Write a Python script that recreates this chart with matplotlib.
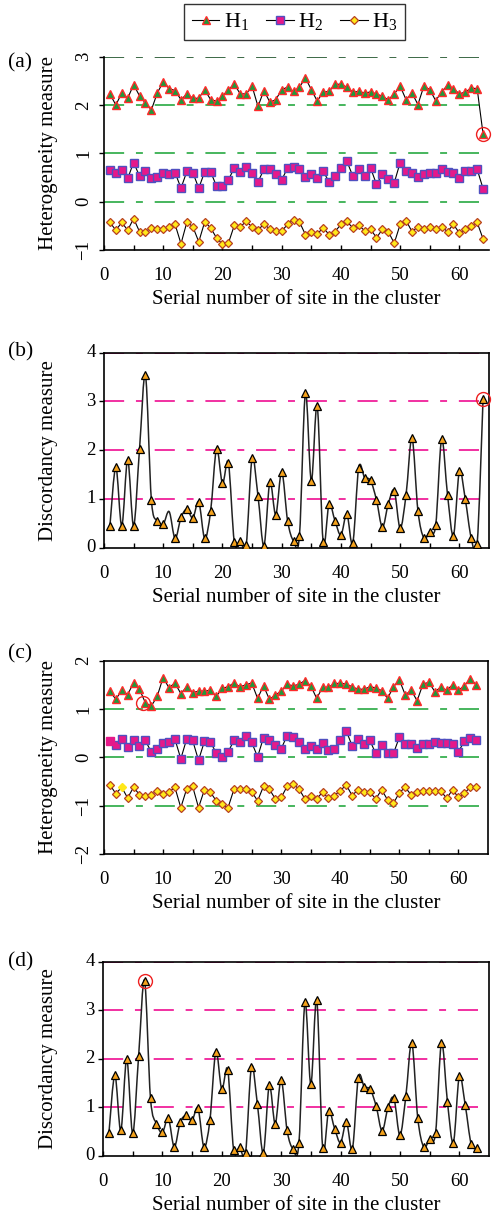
import numpy as np
import matplotlib
matplotlib.use('Agg')
import matplotlib.pyplot as plt
from matplotlib.path import Path
from matplotlib.patches import PathPatch
from matplotlib.lines import Line2D

plt.rcParams['font.family'] = ['Liberation Serif', 'DejaVu Serif']
plt.rcParams['mathtext.fontset'] = 'custom'
plt.rcParams['mathtext.rm'] = 'Liberation Serif'
plt.rcParams['mathtext.it'] = 'Liberation Serif:italic'
plt.rcParams['lines.scale_dashes'] = False

# ---------------- data ----------------
sites_64 = list(range(1, 65))
sites_63 = list(range(1, 64))

a_H1 = [2.23, 2.00, 2.25, 2.14, 2.42, 2.19, 2.04, 1.90, 2.25, 2.48,
        2.34, 2.30, 2.11, 2.23, 2.14, 2.14, 2.32, 2.11, 2.08, 2.18,
        2.32, 2.43, 2.23, 2.23, 2.39, 1.97, 2.30, 2.06, 2.11, 2.32,
        2.37, 2.28, 2.37, 2.56, 2.32, 2.08, 2.27, 2.28, 2.43, 2.43,
        2.37, 2.27, 2.28, 2.25, 2.27, 2.23, 2.18, 2.11, 2.23, 2.39,
        2.11, 2.25, 2.01, 2.39, 2.32, 2.09, 2.27, 2.41, 2.34, 2.23,
        2.27, 2.35, 2.34, 1.40]
a_H2 = [0.66, 0.59, 0.65, 0.48, 0.81, 0.53, 0.63, 0.48, 0.52, 0.60,
        0.57, 0.60, 0.28, 0.63, 0.60, 0.28, 0.62, 0.62, 0.32, 0.32,
        0.45, 0.70, 0.61, 0.72, 0.60, 0.41, 0.67, 0.68, 0.58, 0.45,
        0.70, 0.72, 0.68, 0.52, 0.57, 0.50, 0.63, 0.41, 0.53, 0.70,
        0.84, 0.53, 0.68, 0.53, 0.70, 0.36, 0.57, 0.46, 0.39, 0.81,
        0.63, 0.60, 0.52, 0.57, 0.60, 0.60, 0.67, 0.62, 0.60, 0.48,
        0.63, 0.63, 0.67, 0.27]
a_H3 = [-0.43, -0.59, -0.43, -0.59, -0.35, -0.62, -0.62, -0.54, -0.57, -0.57,
        -0.52, -0.47, -0.87, -0.42, -0.52, -0.83, -0.42, -0.54, -0.75, -0.88,
        -0.86, -0.49, -0.52, -0.41, -0.52, -0.59, -0.46, -0.57, -0.60, -0.61,
        -0.47, -0.37, -0.42, -0.68, -0.62, -0.67, -0.54, -0.68, -0.62, -0.47,
        -0.41, -0.54, -0.49, -0.60, -0.56, -0.75, -0.57, -0.62, -0.86, -0.47,
        -0.39, -0.62, -0.52, -0.57, -0.52, -0.56, -0.52, -0.62, -0.47, -0.65,
        -0.57, -0.50, -0.43, -0.77]

b_D = [0.45, 1.65, 0.45, 1.80, 0.45, 2.03, 3.54, 0.98, 0.55, 0.48,
       0.74, 0.19, 0.62, 0.79, 0.61, 0.94, 0.19, 0.75, 2.02, 1.32,
       1.74, 0.12, 0.14, 0.05, 1.83, 1.06, 0.04, 1.34, 0.68, 1.56,
       0.55, 0.14, 0.25, 3.17, 1.37, 2.91, 0.12, 0.90, 0.55, 0.26,
       0.69, 0.09, 1.64, 1.44, 1.38, 0.98, 0.42, 0.90, 1.17, 0.40,
       1.09, 2.25, 0.76, 0.20, 0.33, 0.46, 2.22, 1.08, 0.25, 1.57,
       0.99, 0.20, 0.08, 3.06]

c_H1 = [1.37, 1.20, 1.39, 1.30, 1.54, 1.41, 1.13, 1.06, 1.26, 1.65,
        1.44, 1.54, 1.32, 1.46, 1.34, 1.37, 1.37, 1.39, 1.26, 1.43,
        1.46, 1.54, 1.46, 1.50, 1.54, 1.22, 1.48, 1.20, 1.29, 1.37,
        1.51, 1.48, 1.51, 1.59, 1.48, 1.22, 1.45, 1.45, 1.53, 1.53,
        1.52, 1.46, 1.41, 1.41, 1.46, 1.44, 1.38, 1.22, 1.46, 1.60,
        1.29, 1.39, 1.17, 1.52, 1.55, 1.36, 1.45, 1.39, 1.50, 1.39,
        1.48, 1.63, 1.50]
c_H2 = [0.34, 0.26, 0.39, 0.21, 0.35, 0.24, 0.35, 0.11, 0.17, 0.29,
        0.32, 0.38, -0.03, 0.38, 0.35, -0.06, 0.33, 0.32, 0.09, 0.01,
        0.11, 0.35, 0.31, 0.45, 0.31, 0.01, 0.41, 0.35, 0.25, 0.18,
        0.45, 0.43, 0.32, 0.18, 0.24, 0.17, 0.29, 0.16, 0.17, 0.36,
        0.55, 0.24, 0.38, 0.27, 0.35, 0.08, 0.25, 0.10, 0.08, 0.42,
        0.27, 0.27, 0.19, 0.28, 0.27, 0.32, 0.29, 0.29, 0.28, 0.12,
        0.33, 0.40, 0.36]
c_H3 = [-0.57, -0.75, -0.62, -0.84, -0.62, -0.77, -0.81, -0.77, -0.70, -0.76,
        -0.72, -0.62, -1.04, -0.65, -0.60, -1.04, -0.67, -0.72, -0.90, -0.97,
        -1.04, -0.66, -0.66, -0.65, -0.71, -0.90, -0.60, -0.66, -0.86, -0.83,
        -0.60, -0.56, -0.65, -0.86, -0.81, -0.86, -0.72, -0.85, -0.79, -0.69,
        -0.57, -0.79, -0.67, -0.72, -0.72, -0.86, -0.67, -0.88, -0.95, -0.73,
        -0.62, -0.78, -0.71, -0.69, -0.69, -0.69, -0.69, -0.85, -0.67, -0.83,
        -0.74, -0.62, -0.62]

d_D = [0.47, 1.66, 0.52, 1.99, 0.46, 2.06, 3.61, 1.18, 0.66, 0.48,
       0.77, 0.18, 0.69, 0.83, 0.73, 0.98, 0.18, 0.73, 2.14, 1.37,
       1.77, 0.12, 0.17, 0.06, 1.83, 1.06, 0.06, 1.45, 0.66, 1.57,
       0.52, 0.14, 0.27, 3.16, 1.47, 3.21, 0.15, 0.92, 0.56, 0.27,
       0.69, 0.14, 1.61, 1.42, 1.37, 1.02, 0.51, 1.00, 1.18, 0.42,
       1.23, 2.33, 0.78, 0.18, 0.34, 0.47, 2.33, 1.11, 0.27, 1.64,
       1.04, 0.24, 0.15]

flag_a = 64   # circled site in (a), H1
flag_b = 64
flag_c = 7
flag_d = 7

panel_labels = ['(a)', '(b)', '(c)', '(d)']
xlabel = 'Serial number of site in the cluster'
ylabel_H = 'Heterogeneity measure'
ylabel_D = 'Discordancy measure'
legend_labels = [r'H$_1$', r'H$_2$', r'H$_3$']

# ---------------- style ----------------
W, H = 494, 1221
fig = plt.figure(figsize=(W / 100, H / 100), dpi=100)

GREEN = '#38b050'
PINK = '#f0209a'
DASH = (0, (14.5, 8.5, 5.0, 8.5))
H1_style = dict(marker='^', ms=6.3, mfc='#1f9a3c', mec='#ff2a2a', mew=1.0)
H2_style = dict(marker='s', ms=5.3, mfc='#e6198a', mec='#5050c0', mew=1.0)
H3_style = dict(marker='D', ms=4.0, mfc='#ffe81a', mec='#b84020', mew=0.9)
D_style = dict(marker='^', ms=6.0, mfc='#f4a21c', mec='black', mew=0.9)
LINE = dict(color='black', lw=0.8)
TICK_FS = 13.5
LAB_FS = 15


def px_axes(left, top, right, bottom):
    return fig.add_axes([left / W, 1 - bottom / H, (right - left) / W, (bottom - top) / H])


def smooth_path(x, y, t=1 / 6):
    verts = [(x[0], y[0])]
    codes = [Path.MOVETO]
    n = len(x)
    for i in range(n - 1):
        xp, yp = (x[i - 1], y[i - 1]) if i > 0 else (x[i], y[i])
        xn, yn = (x[i + 2], y[i + 2]) if i + 2 < n else (x[i + 1], y[i + 1])
        c1 = (x[i] + (x[i + 1] - xp) * t, y[i] + (y[i + 1] - yp) * t)
        c2 = (x[i + 1] - (xn - x[i]) * t, y[i + 1] - (yn - y[i]) * t)
        verts += [c1, c2, (x[i + 1], y[i + 1])]
        codes += [Path.CURVE4] * 3
    return Path(verts, codes)


def setup(ax, left_px, ylim, yticks, grid_vals, gcolor, ylabel, rot, label, top_y, spines):
    ax.set_xlim(0, 65)
    ax.set_ylim(*ylim)
    ax.set_xticks(range(0, 61, 10))
    ax.set_xticks(range(5, 61, 10), minor=True)
    ax.set_yticks(yticks)
    ax.set_yticklabels([str(v).replace('-', '\u2212') for v in yticks],
                       rotation=rot, va='center', ha='right' if rot == 0 else 'center')
    ax.tick_params(axis='x', which='both', direction='in', length=3.5, width=1,
                   labelsize=TICK_FS, pad=12.5)
    ax.tick_params(axis='y', which='both', direction='out', length=3.5, width=1,
                   labelsize=TICK_FS, pad=2.5 if rot == 0 else 11)
    for s in ['left', 'right', 'top', 'bottom']:
        ax.spines[s].set_visible(s in spines)
        ax.spines[s].set_linewidth(1.2)
    for gv in grid_vals:
        ax.hlines(gv, 0, 63.5, colors=gcolor, linestyles=DASH, lw=1.3, zorder=1)
    ax.set_xlabel(xlabel, fontsize=LAB_FS, labelpad=4)
    ax.set_ylabel(ylabel, fontsize=LAB_FS)
    ax.yaxis.set_label_coords(-(left_px - 58) / 385, 0.5)
    fig.text(8 / W, 1 - top_y / H, label, fontsize=15.5, va='center', ha='left')


# ---------- (a) ----------
axa = px_axes(104, 56.7, 489, 250)
setup(axa, 104, (-1, 3), [-1, 0, 1, 2, 3], [0, 1, 2], GREEN, ylabel_H, 90, '(a)', 63,
      ['left', 'bottom'])
axa.hlines(3, 0, 63.5, colors='#2d5e38', linestyles=DASH, lw=1.3, zorder=1)
axa.plot(sites_64, a_H1, **LINE, **H1_style, zorder=3)
axa.plot(sites_64, a_H2, **LINE, **H2_style, zorder=3)
axa.plot(sites_64, a_H3, **LINE, **H3_style, zorder=3)
axa.plot([flag_a], [a_H1[flag_a - 1]], 'o', ms=10, mfc='none', mec='#ee2020', mew=1.0,
         clip_on=False, zorder=4)

# ---------- (b) ----------
axb = px_axes(104, 352.7, 489, 547.7)
setup(axb, 104, (0, 4), [0, 1, 2, 3, 4], [1, 2, 3, 4], PINK, ylabel_D, 0, '(b)', 352,
      ['left', 'bottom', 'top', 'right'])
axb.add_patch(PathPatch(smooth_path(sites_64, b_D), fc='none', ec='#222222', lw=1.1, zorder=2))
mk_b = [i for i in range(len(b_D)) if i != 10]
axb.plot(sites_64, b_D, ls='none', markevery=mk_b, **D_style, zorder=3)
axb.plot([flag_b], [b_D[flag_b - 1]], 'o', ms=10, mfc='none', mec='#ee2020', mew=1.0,
         clip_on=False, zorder=4)

# ---------- (c) ----------
axc = px_axes(104, 660.7, 488, 854)
setup(axc, 104, (-2, 2), [-2, -1, 0, 1, 2], [-1, 0, 1], GREEN, ylabel_H, 90, '(c)', 654,
      ['left', 'bottom', 'top', 'right'])
axc.plot(sites_63, c_H1, **LINE, **H1_style, zorder=3)
axc.plot(sites_63, c_H2, **LINE, markevery=list(range(1, 63)), **H2_style, zorder=3)
axc.plot(sites_63[:1], c_H2[:1], 's', ms=5.3, mfc='#e6198a', mec='#e6198a', zorder=3)
axc.plot(sites_63, c_H3, **LINE, markevery=[i for i in range(63) if i != 2], **H3_style, zorder=3)
axc.plot(sites_63[2:3], c_H3[2:3], 'D', ms=3.6, mfc='#ffe81a', mec='#ffe81a', zorder=3)
axc.plot([flag_c - 0.4], [c_H1[flag_c - 1]], 'o', ms=10, mfc='none', mec='#ee2020', mew=1.0,
         zorder=4)

# ---------- (d) ----------
axd = px_axes(103, 961.7, 489, 1155.7)
setup(axd, 103, (0, 4), [0, 1, 2, 3, 4], [1, 2, 3, 4], PINK, ylabel_D, 0, '(d)', 962,
      ['left', 'bottom', 'top', 'right'])
axd.add_patch(PathPatch(smooth_path(sites_63, d_D), fc='none', ec='#222222', lw=1.1, zorder=2))
axd.plot(sites_63, d_D, ls='none', **D_style, zorder=3)
axd.plot([flag_d], [d_D[flag_d - 1]], 'o', ms=10, mfc='none', mec='#ee2020', mew=1.0,
         zorder=4)

# ---------- legend ----------
handles = [Line2D([], [], **LINE, **H1_style),
           Line2D([], [], **LINE, **H2_style),
           Line2D([], [], **LINE, **H3_style)]
leg = fig.legend(handles, legend_labels, loc='center', bbox_to_anchor=(294.5 / W, 1 - 22 / H),
                 ncol=3, frameon=True, fancybox=False, fontsize=16, handlelength=1.25,
                 handletextpad=0.2, columnspacing=0.75, borderpad=0.35)
leg.get_frame().set_edgecolor('black')
leg.get_frame().set_linewidth(1.0)

fig.savefig('out.png', dpi=100)
